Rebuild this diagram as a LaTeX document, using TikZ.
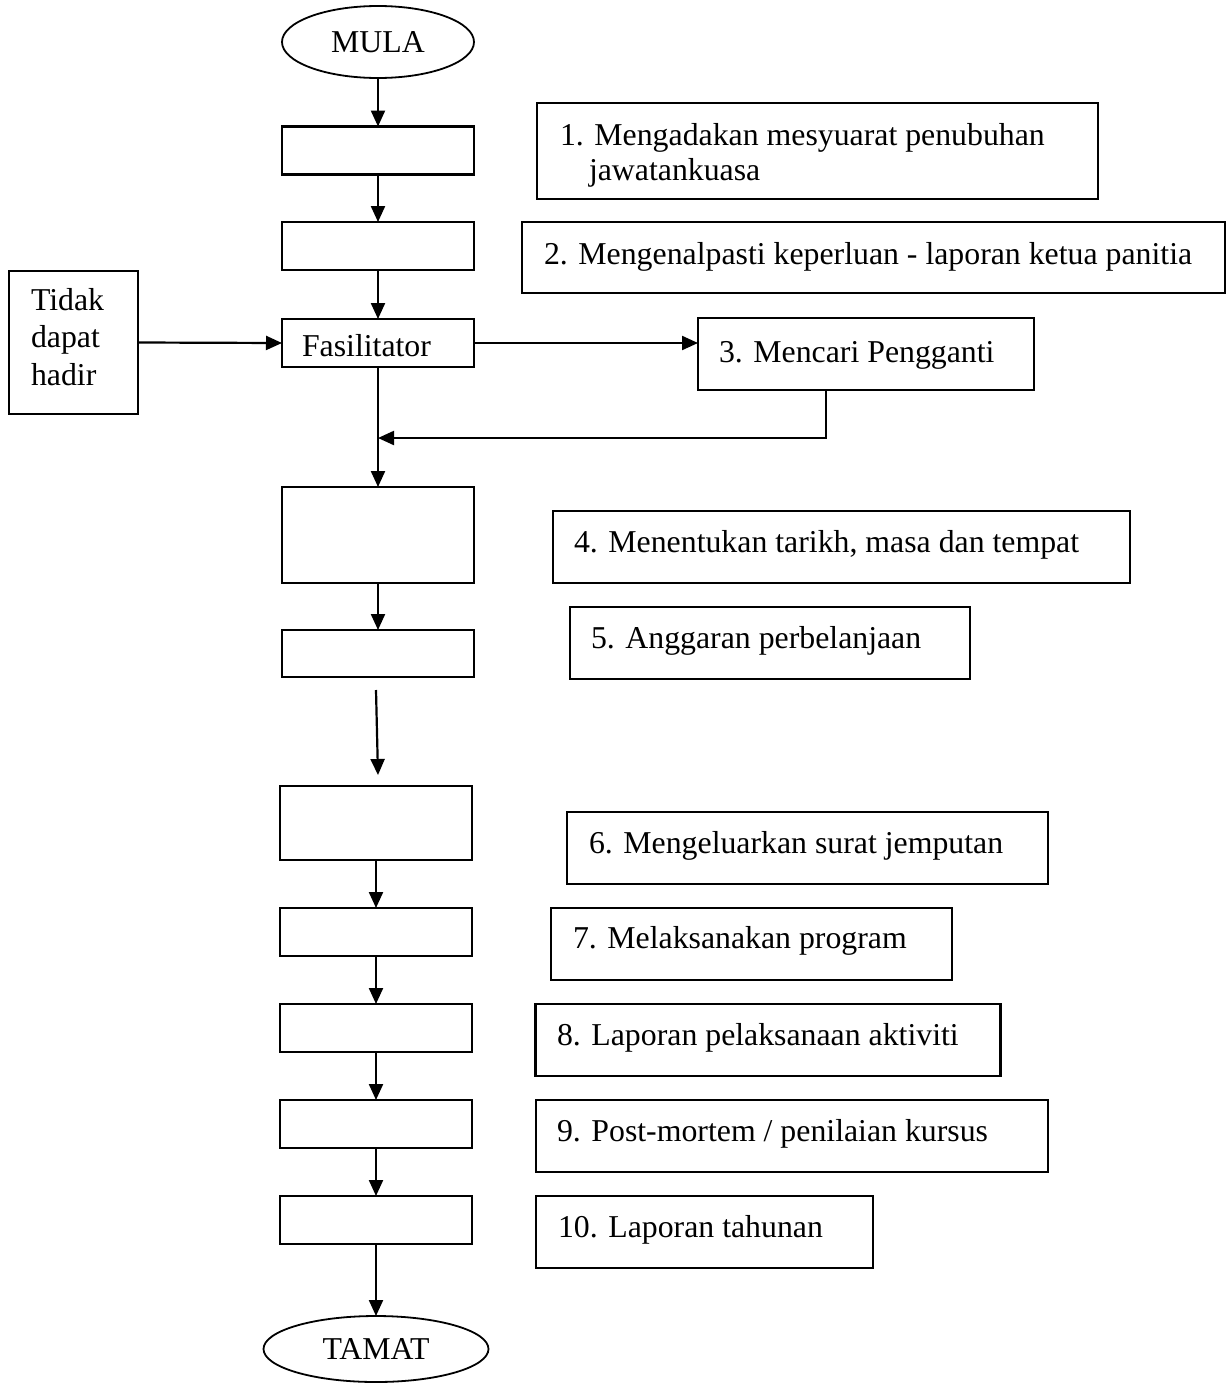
\documentclass[tikz,border=0pt]{standalone}
\usepackage{fontspec}
\setmainfont{Liberation Serif}
\usetikzlibrary{arrows.meta,shapes.geometric}

\begin{document}
\begin{tikzpicture}[x=1pt,y=-1pt,
  font=\fontsize{31.8}{37.5}\selectfont,
  every node/.style={inner sep=0pt, outer sep=0pt},
  box/.style={draw, rectangle, line width=2.2pt},
  term/.style={draw, ellipse, line width=1.8pt},
  txt/.style={anchor=base west, align=left},
  arr/.style={line width=2.2pt, -{Triangle[length=16pt,width=14pt]}}]
\useasboundingbox (0,0) rectangle (1227,1384);

% main column
\node[term, minimum width=192pt, minimum height=72pt] (mula) at (378,42) {MULA};
\node[box, minimum width=192pt, minimum height=48pt] (b1) at (378,150.5) {};
\node[box, minimum width=192pt, minimum height=48pt] (b2) at (378,246) {};
\node[box, minimum width=192pt, minimum height=48pt] (fas) at (378,343) {};
\node[txt] (fastxt) at (302,356) {Fasilitator};
\node[box, minimum width=192pt, minimum height=96pt] (b4) at (378,535) {};
\node[box, minimum width=192pt, minimum height=47pt] (b5) at (378,653.5) {};
\node[box, minimum width=192pt, minimum height=74pt] (b6) at (376,823) {};
\node[box, minimum width=192pt, minimum height=48pt] (b7) at (376,932) {};
\node[box, minimum width=192pt, minimum height=48pt] (b8) at (376,1028) {};
\node[box, minimum width=192pt, minimum height=48pt] (b9) at (376,1124) {};
\node[box, minimum width=192pt, minimum height=48pt] (b10) at (376,1220) {};
\node[term, minimum width=225pt, minimum height=66pt] (tamat) at (376,1349) {TAMAT};

% absence box
\node[box, minimum width=129pt, minimum height=143pt] (tidak) at (73.5,342.5) {};
\node[anchor=west, align=left] (tidaktxt) at (31,337) {Tidak\\dapat\\hadir};

% description boxes
\node[box, minimum width=561pt, minimum height=96pt] (l1) at (817.5,151) {};
\node[txt, font=\fontsize{31.8}{35}\selectfont] (l1txt) at (560,180) {1. Mengadakan mesyuarat penubuhan\\\hspace*{29pt}jawatankuasa};
\node[box, minimum width=703pt, minimum height=71pt] (l2) at (873.5,257.5) {};
\node[txt] (l2txt) at (544,264) {2. Mengenalpasti keperluan - laporan ketua panitia};
\node[box, minimum width=336pt, minimum height=72pt] (l3) at (866,354) {};
\node[txt] (l3txt) at (719,362) {3. Mencari Pengganti};
\node[box, minimum width=577pt, minimum height=72pt] (l4) at (841.5,547) {};
\node[txt] (l4txt) at (574,552) {4. Menentukan tarikh, masa dan tempat};
\node[box, minimum width=400pt, minimum height=72pt] (l5) at (770,643) {};
\node[txt] (l5txt) at (591,648) {5. Anggaran perbelanjaan};
\node[box, minimum width=481pt, minimum height=72pt] (l6) at (807.5,848) {};
\node[txt] (l6txt) at (589,853) {6. Mengeluarkan surat jemputan};
\node[box, minimum width=401pt, minimum height=72pt] (l7) at (751.5,944) {};
\node[txt] (l7txt) at (573,948) {7. Melaksanakan program};
\node[box, minimum width=465pt, minimum height=72pt] (l8) at (768,1040) {};
\node[txt] (l8txt) at (557,1045) {8. Laporan pelaksanaan aktiviti};
\node[box, minimum width=512pt, minimum height=72pt] (l9) at (792,1136) {};
\node[txt] (l9txt) at (557,1141) {9. Post-mortem / penilaian kursus};
\node[box, minimum width=337pt, minimum height=72pt] (l10) at (704.5,1232) {};
\node[txt] (l10txt) at (558,1237) {10. Laporan tahunan};

% connectors
\draw[arr] (mula) -- (b1);
\draw[arr] (b1) -- (b2);
\draw[arr] (b2) -- (fas);
\draw[arr] (tidak.east) -- (fas.west);
\draw[arr] (fas.east) -- (fas.east -| l3.west);
\draw[arr] (fas.south) -- (b4.north);
\coordinate (back) at (826,438);
\draw[arr] (back |- l3.south) -- (back) -- (back -| fas.south);
\draw[arr] (b4) -- (b5);
\draw[arr] ([xshift=-2pt,yshift=-13pt]b5.south) -- ([xshift=2pt,yshift=11pt]b6.north);
\draw[arr] (b6) -- (b7);
\draw[arr] (b7) -- (b8);
\draw[arr] (b8) -- (b9);
\draw[arr] (b9) -- (b10);
\draw[arr] (b10) -- (tamat);
\end{tikzpicture}
\end{document}
